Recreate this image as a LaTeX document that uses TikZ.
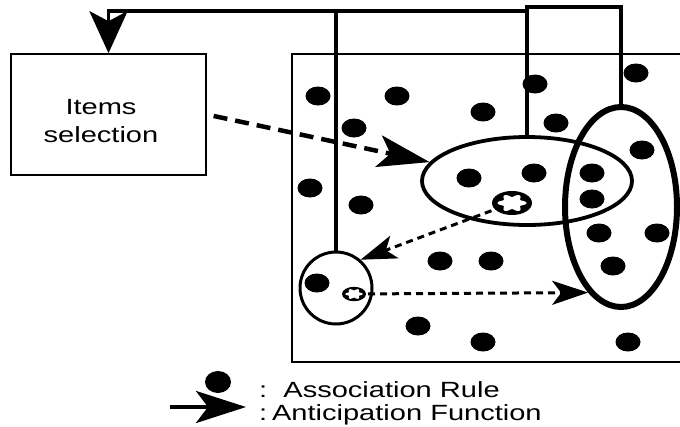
\documentclass[tikz,border=0pt]{standalone}
\usepackage{fontspec}
\setmainfont{Liberation Sans}
\usepackage{graphicx}
\usetikzlibrary{arrows.meta,positioning,shapes.geometric}

\newcommand{\wide}[1]{\scalebox{1.32}[1]{#1}}
\newcommand{\ruleseed}[2]{% centre, size factor
  \fill (#1) ellipse ({20*#2} and {12*#2});
  \fill[white, shift={(#1)}] plot[domain=0:360, samples=73, smooth cycle]
    ({(12+2.5*cos(6*\x))*cos(\x)*#2}, {(7.5+1.5*cos(6*\x))*sin(\x)*#2});
}

\begin{document}
\begin{tikzpicture}[
    x=1pt, y=-1pt,
    box/.style={draw, line width=1.6pt, minimum width=195pt, minimum height=121pt, inner sep=0pt},
    boxtext/.style={align=center, inner sep=0pt, font=\fontsize{22}{28}\selectfont},
    set/.style={draw, ellipse, inner sep=0pt, line width=#1},
    set/.default=3.8pt,
    link/.style={line width=3.8pt},
    legend/.style={anchor=base west, inner sep=0pt, font=\fontsize{22}{26}\selectfont},
    tip/.style={-{Stealth[#1]}},
    antic/.style={line width=3pt, dash pattern=on 7pt off 5pt, tip={length=36pt, width=24pt, inset=9pt}},
]
\useasboundingbox (0,0) rectangle (680,426);

% frame of the rule base
\draw[line width=1.6pt] (683,54) -- (292,54) -- (292,362) -- (683,362);

% association rules
\foreach \px/\py in {318/96, 397/96, 354/128, 483/112, 535/84, 556/123, 636/73,
    310/188, 361/205, 469/178, 534/173, 592/173, 592/199, 642/150, 599/233,
    657/233, 613/266, 440/261, 491/261, 317/283, 418/326, 483/342, 628/342}
  \fill (\px,\py) ellipse (12.5 and 9.5);

\node[box] (items) at (108.5,114.5) {};
\node[boxtext] (itemslabel) at (101,121) {\wide{Items}\\\wide{selection}};
\node[set, minimum width=210pt, minimum height=88pt] (wideset) at (527,181) {};
\node[set=6pt, minimum width=112pt, minimum height=200pt] (tallset) at (621,207) {};
\node[set=3pt, circle, minimum size=72pt] (circ) at (336,288) {};

\coordinate (bigseed) at (512,203);
\coordinate (smallseed) at (354,294);
\ruleseed{bigseed}{1}
\ruleseed{smallseed}{0.6}

% feedback lines
\draw[link] (tallset.north) -- (tallset.north |- 0,7) -| (wideset.north);
\draw[link, tip={length=42pt, width=38pt, inset=10pt}] (wideset.north |- 0,11) -| (items.north);
\draw[link] (circ.north) -- (circ.north |- 0,11);

% anticipation
\draw[line width=4.5pt, dash pattern=on 14pt off 8pt, tip={length=52pt, width=32pt, inset=12pt}, shorten <=7pt] (items.east) -- (wideset.169);
\draw[antic, shorten <=22pt] (bigseed) -- (circ.49);
\draw[antic, shorten <=14pt] (smallseed) -- (tallset.249);

% legend
\fill (218,382) ellipse (13 and 11);
\coordinate (legstart) at (170,407);
\coordinate (legend) at (246,407);
\draw[line width=4pt, tip={length=50pt, width=32pt, inset=12pt}] (legstart) -- (legend);
\node[legend] (rulelabel) at (259,397) {\wide{:\ \ Association Rule}};
\node[legend] (anticlabel) at (259,420) {\wide{:\,Anticipation Function}};
\end{tikzpicture}
\end{document}
